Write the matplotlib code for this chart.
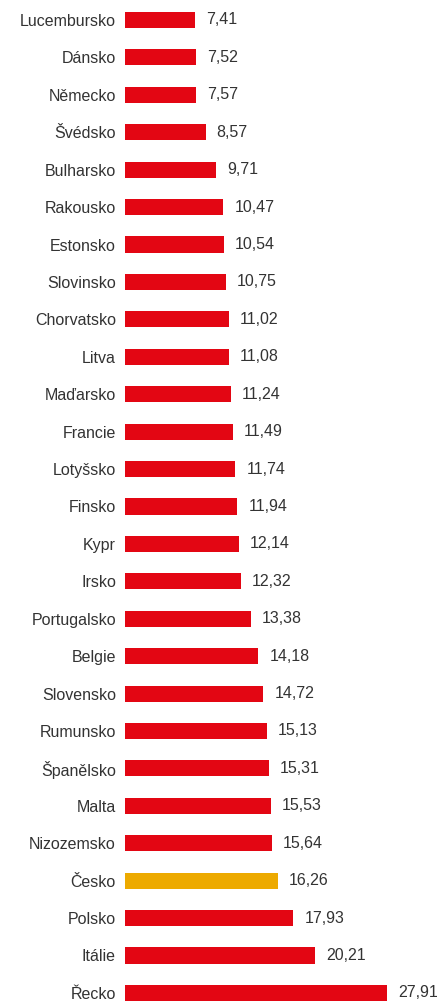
import matplotlib.pyplot as plt

countries = ['Lucembursko', 'Dánsko', 'Německo', 'Švédsko', 'Bulharsko', 'Rakousko',
             'Estonsko', 'Slovinsko', 'Chorvatsko', 'Litva', 'Maďarsko', 'Francie',
             'Lotyšsko', 'Finsko', 'Kypr', 'Irsko', 'Portugalsko', 'Belgie',
             'Slovensko', 'Rumunsko', 'Španělsko', 'Malta', 'Nizozemsko', 'Česko',
             'Polsko', 'Itálie', 'Řecko']
values = [7.41, 7.52, 7.57, 8.57, 9.71, 10.47, 10.54, 10.75, 11.02, 11.08, 11.24, 11.49,
          11.74, 11.94, 12.14, 12.32, 13.38, 14.18, 14.72, 15.13, 15.31, 15.53, 15.64,
          16.26, 17.93, 20.21, 27.91]
highlight = 'Česko'

red = '#e30613'
yellow = '#edaa00'
txt = '#333333'

plt.rcParams['font.family'] = ['Liberation Sans', 'DejaVu Sans']

fig = plt.figure(figsize=(4.37, 10.02), dpi=100)
ax = fig.add_axes([125 / 437, 0, 310 / 437, 1])

colors = [yellow if c == highlight else red for c in countries]
pos = list(range(len(countries)))
ax.barh(pos, values, height=0.43, color=colors)

for i, v in enumerate(values):
    ax.annotate(f'{v:.2f}'.replace('.', ','), (v, i), xytext=(8, 0),
                textcoords='offset points', ha='left', va='center',
                fontsize=11.5, color=txt)

ax.set_yticks(pos)
ax.set_yticklabels(countries, fontsize=11.5, color=txt)
ax.tick_params(axis='y', length=0, pad=6.5)
ax.set_xticks([])
ax.set_xlim(0, 33)
ax.set_ylim(1002 / 37.42 - 20 / 37.42, -20 / 37.42)
for s in ax.spines.values():
    s.set_visible(False)

fig.savefig('out.png', dpi=100)
